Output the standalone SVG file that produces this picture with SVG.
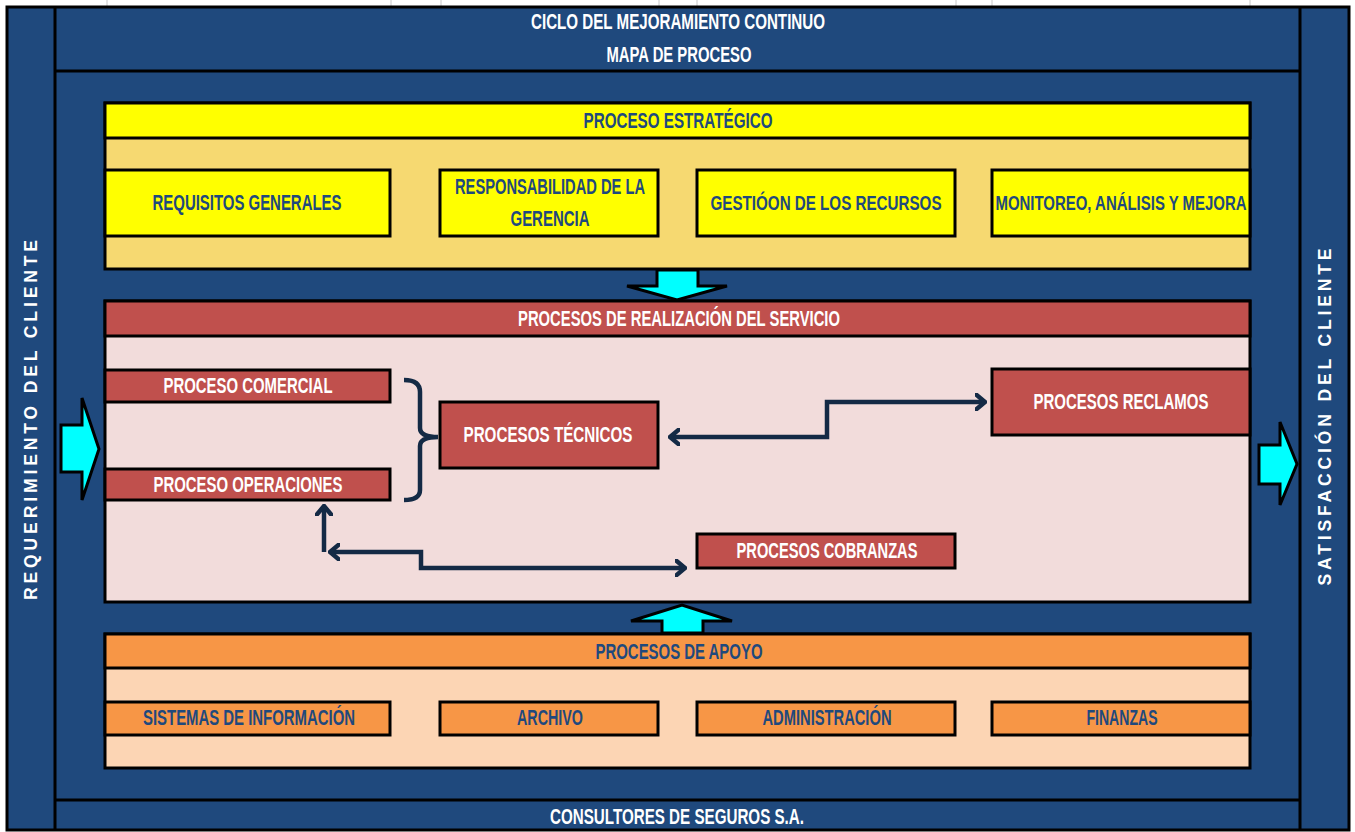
<svg xmlns="http://www.w3.org/2000/svg" width="1355" height="832" viewBox="0 0 1355 832">
  <defs>
    <style>
      .bg { fill: #1F497D; }
      .frame { fill: none; stroke: #000; stroke-width: 3; }
      .box { stroke: #000; stroke-width: 3; }
      .yel { fill: #FFFF00; }
      .tan { fill: #F6D971; }
      .red { fill: #C0504D; }
      .pink { fill: #F2DCDB; }
      .org { fill: #F79646; }
      .peach { fill: #FCD5B4; }
      .cyan { fill: #00FFFF; stroke: #000; stroke-width: 3; stroke-linejoin: miter; }
      text { font-family: "Liberation Sans Narrow", "Liberation Sans", Arial, sans-serif; font-weight: bold; font-size: 21.5px; text-anchor: middle; dominant-baseline: central; }
      .w { fill: #FFFFFF; }
      .b { fill: #1F497D; }
      .sm { font-size: 19.5px; }
      .vert { font-family: "Liberation Sans", Arial, sans-serif; font-size: 17.5px; fill: #FFFFFF; }
      .conn { fill: none; stroke: #142A45; stroke-width: 4.5; stroke-linejoin: miter; }
      .tick { stroke: #C8C8C8; stroke-width: 1; }
    </style>
    <marker id="chev" viewBox="0 0 12 18" refX="10" refY="9" markerWidth="12" markerHeight="18" markerUnits="userSpaceOnUse" orient="auto-start-reverse">
      <polyline points="1,1.5 10,9 1,16.5" fill="none" stroke="#142A45" stroke-width="4.5" stroke-linecap="round"/>
    </marker>
  </defs>

  <rect width="1355" height="832" fill="#FFFFFF"/>

  <!-- grid ticks along the top margin -->
  <g id="ticks">
    <line class="tick" x1="107" y1="0" x2="107" y2="6"/>
    <line class="tick" x1="391" y1="0" x2="391" y2="6"/>
    <line class="tick" x1="441" y1="0" x2="441" y2="6"/>
    <line class="tick" x1="659" y1="0" x2="659" y2="6"/>
    <line class="tick" x1="697" y1="0" x2="697" y2="6"/>
    <line class="tick" x1="956" y1="0" x2="956" y2="6"/>
    <line class="tick" x1="992" y1="0" x2="992" y2="6"/>
    <line class="tick" x1="1250" y1="0" x2="1250" y2="6"/>
  </g>

  <!-- outer frame -->
  <g id="frame">
    <rect class="bg" x="7" y="7" width="1342" height="823"/>
    <rect class="frame" x="7" y="7" width="1342" height="823"/>
    <line class="frame" x1="55" y1="7" x2="55" y2="830"/>
    <line class="frame" x1="1300" y1="7" x2="1300" y2="830"/>
    <line class="frame" x1="55" y1="71" x2="1300" y2="71"/>
    <line class="frame" x1="55" y1="800" x2="1300" y2="800"/>
  </g>

  <g id="title">
    <text class="w" x="678" y="22" textLength="294" lengthAdjust="spacingAndGlyphs">CICLO DEL MEJORAMIENTO CONTINUO</text>
    <text class="w" x="679" y="55" textLength="145" lengthAdjust="spacingAndGlyphs">MAPA DE PROCESO</text>
  </g>
  <g id="footer">
    <text class="w" x="677" y="817" textLength="254" lengthAdjust="spacingAndGlyphs">CONSULTORES DE SEGUROS S.A.</text>
  </g>

  <g id="requerimiento">
    <text class="vert" transform="translate(31,420) rotate(-90)" textLength="360" lengthAdjust="spacing">REQUERIMIENTO DEL CLIENTE</text>
  </g>
  <g id="satisfaccion">
    <text class="vert" transform="translate(1325,417) rotate(-90)" textLength="337" lengthAdjust="spacing">SATISFACCIÓN DEL CLIENTE</text>
  </g>

  <!-- strategic processes -->
  <g id="estrategico">
    <rect class="box tan" x="105" y="103" width="1145" height="166"/>
    <rect class="box yel" x="105" y="103" width="1145" height="35"/>
    <text class="b" x="678" y="121" textLength="189" lengthAdjust="spacingAndGlyphs">PROCESO ESTRATÉGICO</text>
  </g>
  <g id="requisitos">
    <rect class="box yel" x="105" y="170" width="285" height="66"/>
    <text class="b" x="247" y="203" textLength="189" lengthAdjust="spacingAndGlyphs">REQUISITOS GENERALES</text>
  </g>
  <g id="responsabilidad">
    <rect class="box yel" x="440" y="170" width="218" height="66"/>
    <text class="b" x="550" y="187" textLength="190" lengthAdjust="spacingAndGlyphs">RESPONSABILIDAD DE LA</text>
    <text class="b" x="550" y="219" textLength="79" lengthAdjust="spacingAndGlyphs">GERENCIA</text>
  </g>
  <g id="recursos">
    <rect class="box yel" x="697" y="170" width="258" height="66"/>
    <text class="b sm" x="826" y="203" textLength="231" lengthAdjust="spacingAndGlyphs">GESTIÓON DE LOS RECURSOS</text>
  </g>
  <g id="monitoreo">
    <rect class="box yel" x="992" y="170" width="258" height="66"/>
    <text class="b sm" x="1121" y="203" textLength="251" lengthAdjust="spacingAndGlyphs">MONITOREO, ANÁLISIS Y MEJORA</text>
  </g>

  <!-- service realization processes -->
  <g id="realizacion">
    <rect class="box pink" x="105" y="301" width="1145" height="301"/>
    <rect class="box red" x="105" y="301" width="1145" height="35"/>
    <text class="w" x="679" y="319" textLength="322" lengthAdjust="spacingAndGlyphs">PROCESOS DE REALIZACIÓN DEL SERVICIO</text>
  </g>
  <g id="comercial">
    <rect class="box red" x="105" y="370" width="285" height="32"/>
    <text class="w" x="248" y="386" textLength="169" lengthAdjust="spacingAndGlyphs">PROCESO COMERCIAL</text>
  </g>
  <g id="operaciones">
    <rect class="box red" x="105" y="469" width="285" height="31"/>
    <text class="w" x="248" y="485" textLength="189" lengthAdjust="spacingAndGlyphs">PROCESO OPERACIONES</text>
  </g>
  <g id="tecnicos">
    <rect class="box red" x="440" y="402" width="218" height="66"/>
    <text class="w" x="548" y="435" textLength="169" lengthAdjust="spacingAndGlyphs">PROCESOS TÉCNICOS</text>
  </g>
  <g id="reclamos">
    <rect class="box red" x="992" y="369" width="258" height="66"/>
    <text class="w" x="1121" y="402" textLength="175" lengthAdjust="spacingAndGlyphs">PROCESOS RECLAMOS</text>
  </g>
  <g id="cobranzas">
    <rect class="box red" x="697" y="534" width="258" height="34"/>
    <text class="w" x="827" y="551" textLength="181" lengthAdjust="spacingAndGlyphs">PROCESOS COBRANZAS</text>
  </g>

  <!-- support processes -->
  <g id="apoyo">
    <rect class="box peach" x="105" y="634" width="1145" height="134"/>
    <rect class="box org" x="105" y="634" width="1145" height="34"/>
    <text class="b" x="679" y="652" textLength="167" lengthAdjust="spacingAndGlyphs">PROCESOS DE APOYO</text>
  </g>
  <g id="sistemas">
    <rect class="box org" x="105" y="702" width="285" height="33"/>
    <text class="b" x="249" y="718" textLength="212" lengthAdjust="spacingAndGlyphs">SISTEMAS DE INFORMACIÓN</text>
  </g>
  <g id="archivo">
    <rect class="box org" x="440" y="702" width="218" height="33"/>
    <text class="b" x="550" y="718" textLength="66" lengthAdjust="spacingAndGlyphs">ARCHIVO</text>
  </g>
  <g id="administracion">
    <rect class="box org" x="697" y="702" width="258" height="33"/>
    <text class="b" x="827" y="718" textLength="129" lengthAdjust="spacingAndGlyphs">ADMINISTRACIÓN</text>
  </g>
  <g id="finanzas">
    <rect class="box org" x="992" y="702" width="258" height="33"/>
    <text class="b" x="1122" y="718" textLength="71" lengthAdjust="spacingAndGlyphs">FINANZAS</text>
  </g>

  <!-- flow block arrows -->
  <g id="block-arrows">
    <polygon class="cyan" points="61,425 82,425 82,398 99,449 82,500 82,472 61,472"/>
    <polygon class="cyan" points="1259,445 1280,445 1280,422 1297,464 1280,505 1280,484 1259,484"/>
    <polygon class="cyan" points="657,270 698,270 698,286 727,286 677,300 627,286 657,286"/>
    <polygon class="cyan" points="662,633 703,633 703,621 732,621 682,605 631,621 662,621"/>
  </g>

  <!-- connectors -->
  <g id="connectors">
    <path class="conn" d="M404,380 Q420,380 420,392 L420,428 Q420,437 438,437 Q420,437 420,446 L420,490 Q420,500 404,500"/>
    <path class="conn" d="M670,437 L827,437 L827,402 L985,402" marker-start="url(#chev)" marker-end="url(#chev)"/>
    <path class="conn" d="M330,552 L421,552 L421,568 L685,568" marker-start="url(#chev)" marker-end="url(#chev)"/>
    <path class="conn" d="M324,552 L324,506" marker-end="url(#chev)"/>
  </g>
</svg>
